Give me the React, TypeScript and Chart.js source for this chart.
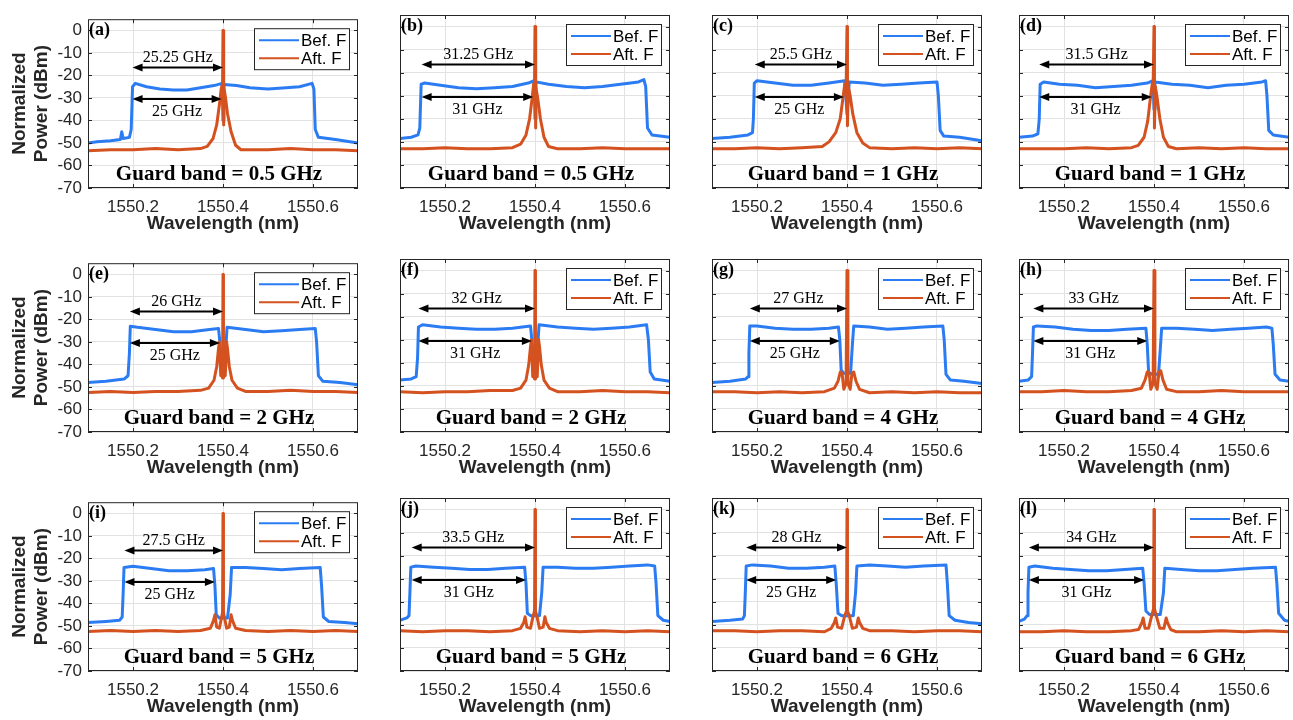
import React, { useEffect, useRef } from 'react';
import { Chart, registerables } from 'chart.js';

Chart.register(...registerables);

// ---------------- data ----------------
const X_TICKS = [1550.2, 1550.4, 1550.6];
const Y_TICKS = [0, -10, -20, -30, -40, -50, -60, -70];
const X_MIN = 1550.1;
const X_MAX = 1550.7;
const Y_MIN = -70;
const Y_MAX = 5;

const PANEL_LABELS = ['(a)', '(b)', '(c)', '(d)', '(e)', '(f)', '(g)', '(h)', '(i)', '(j)', '(k)', '(l)'];
const GUARD_BANDS = ['0.5', '0.5', '1', '1', '2', '2', '4', '4', '5', '5', '6', '6'];
const UPPER_WIDTH_LABELS = ['25.25 GHz', '31.25 GHz', '25.5 GHz', '31.5 GHz', '26 GHz', '32 GHz', '27 GHz', '33 GHz', '27.5 GHz', '33.5 GHz', '28 GHz', '34 GHz'];
const LOWER_WIDTH_LABELS = ['25 GHz', '31 GHz', '25 GHz', '31 GHz', '25 GHz', '31 GHz', '25 GHz', '31 GHz', '25 GHz', '31 GHz', '25 GHz', '31 GHz'];
const ARROW_START = [1550.199, 1550.148, 1550.195, 1550.145, 1550.193, 1550.141, 1550.184, 1550.132, 1550.181, 1550.126, 1550.176, 1550.122];
const ARROW_UPPER_END = [1550.4, 1550.4, 1550.4, 1550.4, 1550.4, 1550.4, 1550.4, 1550.4, 1550.4, 1550.4, 1550.4, 1550.4];
const ARROW_LOWER_END = [1550.397, 1550.396, 1550.393, 1550.395, 1550.393, 1550.393, 1550.384, 1550.385, 1550.382, 1550.380, 1550.376, 1550.378];
const ARROW_UPPER_Y = -16.5;
const ARROW_LOWER_Y = -30.5;
const SERIES_NAMES = ['Bef. F', 'Aft. F'];

const BEF_A = [[1550.100,-50],[1550.120,-49.5],[1550.150,-49],[1550.172,-48.5],[1550.175,-45],[1550.178,-48],[1550.192,-47.5],[1550.196,-44],[1550.199,-25],[1550.205,-23.5],[1550.230,-25],[1550.260,-26],[1550.290,-26.5],[1550.320,-26.5],[1550.350,-25.5],[1550.380,-24.5],[1550.398,-23.5],[1550.400,-40],[1550.402,-24],[1550.430,-24.5],[1550.460,-25.5],[1550.500,-26],[1550.540,-25.5],[1550.570,-25],[1550.598,-23.5],[1550.602,-26],[1550.605,-44],[1550.612,-47.5],[1550.650,-48.5],[1550.700,-50]];
const AFT_A = [[1550.100,-53.5],[1550.150,-53],[1550.200,-53],[1550.250,-52.5],[1550.300,-53],[1550.350,-52.5],[1550.365,-51.5],[1550.378,-48],[1550.386,-42],[1550.392,-33],[1550.396,-26],[1550.399,-24],[1550.400,0],[1550.401,-42],[1550.402,-25],[1550.405,-29],[1550.410,-37],[1550.418,-45],[1550.428,-51],[1550.440,-53],[1550.500,-53],[1550.550,-52.5],[1550.600,-53],[1550.650,-53],[1550.700,-53.5]];

const BEF_B = [[1550.100,-48.5],[1550.125,-48],[1550.140,-47],[1550.144,-44],[1550.147,-25],[1550.155,-24.5],[1550.190,-25.5],[1550.230,-26.5],[1550.270,-27],[1550.310,-26.5],[1550.350,-26],[1550.385,-24.5],[1550.398,-23.5],[1550.400,-40],[1550.402,-24],[1550.430,-25],[1550.470,-26],[1550.510,-26.5],[1550.550,-26],[1550.590,-25],[1550.630,-24],[1550.642,-23],[1550.646,-26],[1550.650,-44],[1550.660,-47],[1550.700,-48]];
const AFT_B = [[1550.100,-53],[1550.150,-53],[1550.200,-52.5],[1550.250,-53],[1550.300,-53],[1550.350,-52.5],[1550.368,-51],[1550.380,-47],[1550.388,-40],[1550.393,-32],[1550.397,-25],[1550.399,-24],[1550.400,0],[1550.401,-44],[1550.402,-26],[1550.406,-31],[1550.412,-40],[1550.420,-48],[1550.430,-52],[1550.450,-53],[1550.500,-53],[1550.550,-52.5],[1550.600,-53],[1550.650,-53],[1550.700,-53]];

const BEF_C = [[1550.100,-48.5],[1550.140,-48],[1550.180,-47],[1550.190,-46],[1550.192,-40],[1550.194,-24.5],[1550.200,-23.5],[1550.240,-24.5],[1550.280,-25.5],[1550.320,-25.5],[1550.360,-24.5],[1550.395,-23.5],[1550.400,-38],[1550.405,-24],[1550.440,-24.5],[1550.480,-25.5],[1550.520,-25],[1550.560,-24.5],[1550.600,-24],[1550.603,-30],[1550.607,-45],[1550.615,-47.5],[1550.650,-48],[1550.700,-49.5]];
const AFT_C = [[1550.100,-53],[1550.150,-53],[1550.200,-52.5],[1550.250,-53],[1550.300,-52.5],[1550.345,-52],[1550.360,-50],[1550.375,-46],[1550.385,-40],[1550.391,-31],[1550.395,-25],[1550.398,-28],[1550.400,0],[1550.401,-43],[1550.403,-26],[1550.407,-30],[1550.413,-38],[1550.422,-46],[1550.435,-50.5],[1550.450,-52.5],[1550.500,-53],[1550.550,-52.5],[1550.600,-53],[1550.650,-52.5],[1550.700,-53]];

const BEF_D = [[1550.100,-48],[1550.130,-47.5],[1550.142,-46.5],[1550.145,-40],[1550.147,-25],[1550.155,-24],[1550.190,-25],[1550.230,-25.5],[1550.270,-26.5],[1550.310,-26],[1550.350,-25.5],[1550.385,-24.5],[1550.398,-23.5],[1550.400,-36],[1550.402,-24],[1550.440,-25],[1550.480,-25.5],[1550.520,-26.5],[1550.560,-25.5],[1550.600,-25],[1550.640,-24],[1550.648,-23.5],[1550.651,-30],[1550.655,-45],[1550.665,-47],[1550.700,-48]];
const AFT_D = [[1550.100,-53],[1550.150,-53],[1550.200,-53],[1550.250,-52.5],[1550.300,-53],[1550.350,-52.5],[1550.365,-51.5],[1550.378,-48],[1550.386,-41],[1550.392,-31],[1550.396,-25],[1550.398,-27],[1550.400,0],[1550.401,-44],[1550.403,-26],[1550.407,-31],[1550.413,-40],[1550.421,-48],[1550.432,-52],[1550.450,-53],[1550.500,-52.5],[1550.550,-53],[1550.600,-52.5],[1550.650,-53],[1550.700,-53]];

const BEF_E = [[1550.100,-48],[1550.140,-47.5],[1550.180,-46.5],[1550.189,-45],[1550.192,-35],[1550.194,-23],[1550.210,-23.5],[1550.250,-24.5],[1550.290,-25.5],[1550.330,-25.5],[1550.370,-24.5],[1550.390,-24],[1550.393,-30],[1550.395,-42],[1550.405,-42],[1550.407,-30],[1550.409,-23.5],[1550.450,-24.5],[1550.490,-25.5],[1550.530,-25],[1550.570,-24.5],[1550.605,-24],[1550.608,-30],[1550.612,-45],[1550.622,-47.5],[1550.660,-48],[1550.700,-49]];
const AFT_E = [[1550.100,-52.5],[1550.150,-52],[1550.200,-52.5],[1550.250,-52],[1550.300,-52],[1550.350,-51.5],[1550.368,-50.5],[1550.380,-47],[1550.386,-41],[1550.390,-33],[1550.392,-30],[1550.395,-45],[1550.397,-40],[1550.399,-46],[1550.400,0],[1550.401,-46],[1550.403,-40],[1550.405,-45],[1550.408,-30],[1550.410,-33],[1550.414,-41],[1550.420,-47],[1550.432,-50.5],[1550.450,-52],[1550.500,-52],[1550.550,-51.5],[1550.600,-52],[1550.650,-52],[1550.700,-52.5]];

const BEF_F = [[1550.100,-47.5],[1550.125,-47],[1550.136,-46],[1550.139,-38],[1550.141,-24.5],[1550.150,-23.5],[1550.190,-24.5],[1550.230,-25],[1550.270,-25.5],[1550.310,-25.5],[1550.350,-25],[1550.390,-24],[1550.393,-30],[1550.395,-42],[1550.405,-42],[1550.407,-30],[1550.409,-23.5],[1550.450,-24.5],[1550.490,-25],[1550.530,-25.5],[1550.570,-25],[1550.610,-24.5],[1550.648,-23.5],[1550.652,-30],[1550.656,-44],[1550.665,-47],[1550.700,-48]];
const AFT_F = [[1550.100,-52.5],[1550.150,-53],[1550.200,-52.5],[1550.250,-52.5],[1550.300,-52],[1550.350,-52],[1550.368,-51],[1550.380,-47.5],[1550.386,-41],[1550.390,-33],[1550.392,-30],[1550.395,-46],[1550.397,-41],[1550.399,-47],[1550.400,0],[1550.401,-47],[1550.403,-41],[1550.405,-46],[1550.408,-30],[1550.410,-33],[1550.414,-41],[1550.420,-47.5],[1550.432,-51],[1550.450,-52.5],[1550.500,-52.5],[1550.550,-52],[1550.600,-52.5],[1550.650,-52.5],[1550.700,-53]];

const BEF_G = [[1550.100,-48.5],[1550.140,-48],[1550.175,-47],[1550.180,-46],[1550.182,-36],[1550.184,-24],[1550.200,-24],[1550.240,-25],[1550.280,-25.5],[1550.320,-25.5],[1550.360,-25],[1550.381,-24.5],[1550.384,-30],[1550.387,-43],[1550.392,-44.5],[1550.408,-44.5],[1550.412,-32],[1550.415,-24],[1550.450,-24.5],[1550.490,-25.5],[1550.530,-25],[1550.570,-24.5],[1550.613,-24],[1550.616,-30],[1550.620,-45],[1550.630,-47.5],[1550.660,-48],[1550.700,-49]];
const AFT_G = [[1550.100,-52.5],[1550.150,-52.5],[1550.200,-53],[1550.250,-52.5],[1550.300,-53],[1550.350,-52.5],[1550.372,-51],[1550.380,-48],[1550.385,-44],[1550.389,-44.5],[1550.393,-51.5],[1550.398,-49],[1550.400,0],[1550.402,-49],[1550.407,-51.5],[1550.411,-44.5],[1550.415,-44],[1550.420,-48],[1550.428,-51.5],[1550.450,-53],[1550.500,-52.5],[1550.550,-53],[1550.600,-52.5],[1550.650,-53],[1550.700,-53]];

const BEF_H = [[1550.100,-48],[1550.120,-47.5],[1550.128,-46],[1550.130,-36],[1550.132,-24.5],[1550.140,-24],[1550.180,-24.5],[1550.220,-25.5],[1550.260,-26],[1550.300,-26],[1550.340,-25.5],[1550.382,-25],[1550.385,-32],[1550.388,-44],[1550.395,-45],[1550.410,-45],[1550.414,-34],[1550.417,-25],[1550.450,-25],[1550.490,-25.5],[1550.530,-26],[1550.570,-25.5],[1550.610,-25],[1550.650,-24.5],[1550.662,-25],[1550.665,-32],[1550.669,-45],[1550.680,-47.5],[1550.700,-48]];
const AFT_H = [[1550.100,-52.5],[1550.150,-52.5],[1550.200,-52],[1550.250,-52.5],[1550.300,-52.5],[1550.350,-52],[1550.372,-51],[1550.380,-47.5],[1550.385,-44],[1550.389,-44],[1550.393,-51.5],[1550.398,-49],[1550.400,0],[1550.402,-49],[1550.407,-51.5],[1550.411,-44],[1550.415,-43.5],[1550.420,-47.5],[1550.428,-51.5],[1550.450,-52.5],[1550.500,-52.5],[1550.550,-52],[1550.600,-52.5],[1550.650,-52.5],[1550.700,-52.5]];

const BEF_I = [[1550.100,-48.5],[1550.140,-48],[1550.170,-47.5],[1550.176,-46],[1550.178,-36],[1550.180,-24],[1550.200,-23.5],[1550.240,-24.5],[1550.280,-25.5],[1550.320,-25.5],[1550.360,-25],[1550.379,-24.5],[1550.382,-32],[1550.385,-45],[1550.392,-46.5],[1550.410,-46.5],[1550.416,-36],[1550.419,-24],[1550.450,-24],[1550.490,-24.5],[1550.530,-25],[1550.570,-24.5],[1550.616,-24],[1550.619,-32],[1550.623,-46],[1550.635,-48],[1550.670,-48.5],[1550.700,-49]];
const AFT_I = [[1550.100,-52.5],[1550.150,-52],[1550.200,-52.5],[1550.250,-52],[1550.300,-52.5],[1550.350,-52],[1550.372,-51],[1550.379,-47.5],[1550.382,-45],[1550.386,-50.5],[1550.392,-51],[1550.397,-46],[1550.399,-44],[1550.400,0],[1550.401,-44],[1550.403,-46],[1550.408,-51],[1550.414,-50.5],[1550.418,-45],[1550.421,-47.5],[1550.428,-51],[1550.450,-52],[1550.500,-52.5],[1550.550,-52],[1550.600,-52.5],[1550.650,-52],[1550.700,-52.5]];

const BEF_J = [[1550.100,-48],[1550.115,-47],[1550.120,-46],[1550.122,-36],[1550.124,-25],[1550.135,-24.5],[1550.175,-25],[1550.215,-25.5],[1550.255,-26],[1550.295,-26],[1550.335,-25.5],[1550.377,-25],[1550.380,-32],[1550.383,-45],[1550.390,-46],[1550.410,-46],[1550.415,-36],[1550.418,-25],[1550.450,-25],[1550.490,-25.5],[1550.530,-25.5],[1550.570,-25],[1550.610,-24.5],[1550.650,-24],[1550.666,-24.5],[1550.669,-32],[1550.673,-46],[1550.685,-48],[1550.700,-48.5]];
const AFT_J = [[1550.100,-52.5],[1550.150,-53],[1550.200,-52.5],[1550.250,-52.5],[1550.300,-53],[1550.350,-52.5],[1550.368,-51.5],[1550.375,-49],[1550.378,-46.5],[1550.382,-51],[1550.390,-51.5],[1550.396,-46],[1550.399,-44],[1550.400,0],[1550.401,-44],[1550.404,-46],[1550.410,-51.5],[1550.418,-51],[1550.422,-46.5],[1550.425,-49],[1550.432,-51.5],[1550.450,-52.5],[1550.500,-53],[1550.550,-52.5],[1550.600,-53],[1550.650,-52.5],[1550.700,-53]];

const BEF_K = [[1550.100,-48.5],[1550.140,-48],[1550.168,-47.5],[1550.172,-46],[1550.174,-36],[1550.176,-24.5],[1550.190,-24],[1550.230,-24.5],[1550.270,-25.5],[1550.310,-25.5],[1550.350,-25],[1550.373,-24.5],[1550.376,-32],[1550.380,-45],[1550.388,-46],[1550.414,-46],[1550.419,-36],[1550.422,-24.5],[1550.450,-24],[1550.490,-24.5],[1550.530,-25],[1550.570,-24.5],[1550.620,-24],[1550.623,-32],[1550.627,-46],[1550.640,-48],[1550.670,-49],[1550.700,-49.5]];
const AFT_K = [[1550.100,-52.5],[1550.150,-52.5],[1550.200,-53],[1550.250,-52.5],[1550.300,-52.5],[1550.350,-53],[1550.365,-51.5],[1550.372,-49],[1550.375,-47],[1550.379,-51],[1550.388,-51.5],[1550.395,-46],[1550.399,-44],[1550.400,0],[1550.401,-44],[1550.405,-46],[1550.412,-51.5],[1550.421,-51],[1550.425,-47],[1550.428,-49],[1550.435,-51.5],[1550.450,-52.5],[1550.500,-52.5],[1550.550,-53],[1550.600,-52.5],[1550.650,-52.5],[1550.700,-53]];

const BEF_L = [[1550.100,-48.5],[1550.112,-47.5],[1550.118,-46],[1550.120,-36],[1550.122,-25],[1550.135,-24.5],[1550.175,-25.5],[1550.215,-26],[1550.255,-26.5],[1550.295,-26.5],[1550.335,-26],[1550.375,-25.5],[1550.378,-32],[1550.382,-44],[1550.390,-45.5],[1550.414,-45.5],[1550.421,-36],[1550.424,-25.5],[1550.460,-26],[1550.500,-26.5],[1550.540,-26.5],[1550.580,-26],[1550.620,-25.5],[1550.670,-25],[1550.673,-32],[1550.677,-45],[1550.690,-48],[1550.700,-48.5]];
const AFT_L = [[1550.100,-53],[1550.150,-53],[1550.200,-52.5],[1550.250,-53],[1550.300,-53],[1550.350,-52.5],[1550.366,-52],[1550.373,-49],[1550.376,-47],[1550.380,-51.5],[1550.388,-51.5],[1550.395,-46],[1550.399,-43],[1550.400,0],[1550.401,-43],[1550.405,-46],[1550.413,-51.5],[1550.422,-51.5],[1550.427,-47],[1550.430,-49],[1550.437,-52],[1550.450,-53],[1550.500,-53],[1550.550,-52.5],[1550.600,-53],[1550.650,-52.5],[1550.700,-53]];

const BEF = [BEF_A, BEF_B, BEF_C, BEF_D, BEF_E, BEF_F, BEF_G, BEF_H, BEF_I, BEF_J, BEF_K, BEF_L];
const AFT = [AFT_A, AFT_B, AFT_C, AFT_D, AFT_E, AFT_F, AFT_G, AFT_H, AFT_I, AFT_J, AFT_K, AFT_L];

// ---------------- layout & style ----------------
const COL_LEFT = [88, 400, 712, 1019];
const ROW_TOP = [15, 259, 498];
const PLOT_W = 270;
const PLOT_H = 173;

const BLUE = '#2b7cf2';
const RED = '#d4521f';
const GRID = '#e2e2e2';
const AXIS = '#262626';
const SANS = '"Liberation Sans", Arial, Helvetica, sans-serif';
const SERIF = '"Liberation Serif", "Times New Roman", Times, serif';

function drawArrow(ctx: CanvasRenderingContext2D, x1: number, x2: number, yy: number) {
  const hl = 10;
  const hw = 4;
  ctx.strokeStyle = '#000';
  ctx.fillStyle = '#000';
  ctx.lineWidth = 2;
  ctx.beginPath();
  ctx.moveTo(x1 + hl - 2, yy);
  ctx.lineTo(x2 - hl + 2, yy);
  ctx.stroke();
  ctx.beginPath();
  ctx.moveTo(x1, yy);
  ctx.lineTo(x1 + hl, yy - hw);
  ctx.lineTo(x1 + hl, yy + hw);
  ctx.closePath();
  ctx.fill();
  ctx.beginPath();
  ctx.moveTo(x2, yy);
  ctx.lineTo(x2 - hl, yy - hw);
  ctx.lineTo(x2 - hl, yy + hw);
  ctx.closePath();
  ctx.fill();
}

function makeDecor(idx: number) {
  return {
    id: 'panelDecor' + idx,
    afterDatasetsDraw(chart: any) {
      const { ctx, chartArea: a, scales } = chart;
      const xs = scales.x;
      const ys = scales.y;
      ctx.save();

      // frame
      ctx.strokeStyle = AXIS;
      ctx.lineWidth = 1;
      ctx.strokeRect(a.left + 0.5, a.top + 0.5, a.right - a.left - 1, a.bottom - a.top - 1);

      // inward tick marks
      ctx.beginPath();
      for (const v of X_TICKS) {
        const px = Math.round(xs.getPixelForValue(v)) + 0.5;
        ctx.moveTo(px, a.bottom);
        ctx.lineTo(px, a.bottom - 4);
        ctx.moveTo(px, a.top);
        ctx.lineTo(px, a.top + 4);
      }
      for (const v of Y_TICKS) {
        const py = Math.round(ys.getPixelForValue(v)) + 0.5;
        ctx.moveTo(a.left, py);
        ctx.lineTo(a.left + 4, py);
        ctx.moveTo(a.right, py);
        ctx.lineTo(a.right - 4, py);
      }
      ctx.stroke();

      // width arrows and labels
      const xStart = xs.getPixelForValue(ARROW_START[idx]);
      const xUp = xs.getPixelForValue(ARROW_UPPER_END[idx]);
      const xLow = xs.getPixelForValue(ARROW_LOWER_END[idx]);
      const yUp = ys.getPixelForValue(ARROW_UPPER_Y);
      const yLow = ys.getPixelForValue(ARROW_LOWER_Y);
      drawArrow(ctx, xStart, xUp, yUp);
      drawArrow(ctx, xStart, xLow, yLow);
      ctx.fillStyle = '#000';
      ctx.font = `16px ${SERIF}`;
      ctx.textAlign = 'center';
      ctx.textBaseline = 'alphabetic';
      ctx.fillText(UPPER_WIDTH_LABELS[idx], (xStart + xUp) / 2, yUp - 6);
      ctx.fillText(LOWER_WIDTH_LABELS[idx], (xStart + xLow) / 2, yLow + 17);

      // guard band text
      ctx.font = `bold 21px ${SERIF}`;
      ctx.fillText(`Guard band = ${GUARD_BANDS[idx]} GHz`, (a.left + a.right) / 2 - 4, a.bottom - 8);

      // panel label
      ctx.textAlign = 'left';
      ctx.font = `bold 18px ${SERIF}`;
      ctx.fillText(PANEL_LABELS[idx], a.left + 1, a.top + 16);

      // legend box
      const bx = a.right - 104;
      const by = a.top + 9;
      ctx.fillStyle = '#fff';
      ctx.fillRect(bx, by, 95, 41);
      ctx.strokeStyle = AXIS;
      ctx.lineWidth = 1;
      ctx.strokeRect(bx + 0.5, by + 0.5, 95, 41);
      const entries = [BLUE, RED];
      entries.forEach((c, k) => {
        const ly = by + 12 + k * 18;
        ctx.strokeStyle = c;
        ctx.lineWidth = 2;
        ctx.beginPath();
        ctx.moveTo(bx + 5, ly);
        ctx.lineTo(bx + 45, ly);
        ctx.stroke();
        ctx.fillStyle = '#000';
        ctx.font = `17px ${SANS}`;
        ctx.textAlign = 'left';
        ctx.textBaseline = 'middle';
        ctx.fillText(SERIES_NAMES[k], bx + 47, ly + 1);
      });

      ctx.restore();
    },
  };
}

function Panel({ idx }: { idx: number }) {
  const ref = useRef<HTMLCanvasElement>(null);
  const col = idx % 4;
  const row = Math.floor(idx / 4);
  const padL = col === 0 ? COL_LEFT[0] : 12;
  const padR = 4;
  const padT = 12;
  const padB = 50;
  const left = COL_LEFT[col] - padL;
  const top = ROW_TOP[row] - padT;
  const width = PLOT_W + padL + padR;
  const height = PLOT_H + padT + padB;

  useEffect(() => {
    if (!ref.current) return;
    const chart = new Chart(ref.current, {
      type: 'line',
      data: {
        datasets: [
          {
            label: SERIES_NAMES[1],
            data: AFT[idx].map(([x, y]) => ({ x, y })),
            borderColor: RED,
            backgroundColor: RED,
            borderWidth: 3,
            pointRadius: 0,
            tension: 0,
            borderJoinStyle: 'round',
            order: 1,
          },
          {
            label: SERIES_NAMES[0],
            data: BEF[idx].map(([x, y]) => ({ x, y })),
            borderColor: BLUE,
            backgroundColor: BLUE,
            borderWidth: 3,
            pointRadius: 0,
            tension: 0,
            borderJoinStyle: 'round',
            order: 2,
          },
        ],
      },
      options: {
        animation: false,
        responsive: false,
        maintainAspectRatio: false,
        events: [],
        layout: { padding: { top: padT, right: padR, left: 0, bottom: 0 } },
        plugins: { legend: { display: false }, tooltip: { enabled: false } },
        scales: {
          x: {
            type: 'linear',
            min: X_MIN,
            max: X_MAX,
            afterBuildTicks: (s: any) => {
              s.ticks = X_TICKS.map((v) => ({ value: v }));
            },
            afterFit: (s: any) => {
              s.height = padB;
            },
            grid: { color: GRID, drawTicks: false },
            border: { display: false },
            ticks: {
              color: AXIS,
              font: { family: SANS, size: 17 },
              padding: 9,
              maxRotation: 0,
              autoSkip: false,
              callback: (v: any) => Number(v).toFixed(1),
            },
            title: {
              display: true,
              text: 'Wavelength (nm)',
              color: AXIS,
              font: { family: SANS, size: 19, weight: 'bold' },
              padding: { top: 0, bottom: 3 },
            },
          },
          y: {
            type: 'linear',
            min: Y_MIN,
            max: Y_MAX,
            afterBuildTicks: (s: any) => {
              s.ticks = Y_TICKS.map((v) => ({ value: v }));
            },
            afterFit: (s: any) => {
              s.width = padL;
            },
            grid: { color: GRID, drawTicks: false },
            border: { display: false },
            ticks: {
              display: col === 0,
              color: AXIS,
              font: { family: SANS, size: 17 },
              padding: 6,
              autoSkip: false,
              callback: (v: any) => String(v),
            },
            title: {
              display: col === 0,
              text: ['Normalized', 'Power (dBm)'],
              color: AXIS,
              font: { family: SANS, size: 19, weight: 'bold', lineHeight: 1.2 },
              padding: { top: 8, bottom: 0 },
            },
          },
        },
      } as any,
      plugins: [makeDecor(idx)],
    });
    return () => chart.destroy();
  }, [idx]);

  return (
    <canvas
      ref={ref}
      width={width}
      height={height}
      style={{ position: 'absolute', left, top, width, height, display: 'block' }}
    />
  );
}

export default function App() {
  return (
    <div
      style={{
        position: 'absolute',
        left: 0,
        top: 0,
        width: 1293,
        height: 720,
        overflow: 'hidden',
        background: '#fff',
      }}
    >
      {PANEL_LABELS.map((_, i) => (
        <Panel key={i} idx={i} />
      ))}
    </div>
  );
}
